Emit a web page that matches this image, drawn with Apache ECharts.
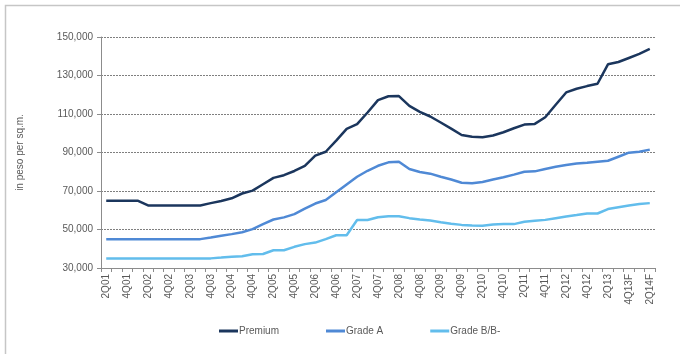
<!DOCTYPE html>
<html>
<head>
<meta charset="utf-8">
<script src="https://cdn.jsdelivr.net/npm/echarts@6/dist/echarts.min.js"></script>
<style>
  html, body { margin: 0; padding: 0; background: #ffffff; }
  #chart { width: 680px; height: 354px; }
</style>
</head>
<body>
<div id="chart"></div>
<script>
// Quarterly office rents, 2Q01 to 2Q14F (pesos per square metre)
const quarters = [
  '2Q01','3Q01','4Q01','1Q02','2Q02','3Q02','4Q02','1Q03','2Q03','3Q03','4Q03',
  '1Q04','2Q04','3Q04','4Q04','1Q05','2Q05','3Q05','4Q05','1Q06','2Q06','3Q06','4Q06',
  '1Q07','2Q07','3Q07','4Q07','1Q08','2Q08','3Q08','4Q08','1Q09','2Q09','3Q09','4Q09',
  '1Q10','2Q10','3Q10','4Q10','1Q11','2Q11','3Q11','4Q11','1Q12','2Q12','3Q12','4Q12',
  '1Q13','2Q13','3Q13','4Q13F','1Q14F','2Q14F'
];

const premium = [
  65000, 65000, 65000, 65000, 62500, 62500, 62500, 62500, 62500, 62500, 63700,
  64800, 66200, 68700, 70200, 73500, 76800, 78200, 80400, 83000, 88400, 90400, 96200,
  102300, 104700, 110800, 117200, 119200, 119300, 114200, 111100, 108700, 105600, 102400, 99100,
  98200, 97900, 98800, 100500, 102600, 104500, 104850, 108300, 114800, 121200, 123100, 124500,
  125700, 135800, 137000, 139100, 141200, 143800
];

const gradeA = [
  45000, 45000, 45000, 45000, 45000, 45000, 45000, 45000, 45000, 45000, 45800,
  46700, 47600, 48600, 50200, 52800, 55200, 56300, 58000, 60800, 63500, 65300, 69300,
  73400, 77400, 80500, 83100, 84900, 85200, 81400, 79900, 79000, 77400, 76000, 74300,
  74000, 74700, 76000, 77100, 78500, 80000, 80200, 81400, 82600, 83500, 84300, 84700,
  85200, 85700, 87800, 89900, 90400, 91500
];

const gradeB = [
  35000, 35000, 35000, 35000, 35000, 35000, 35000, 35000, 35000, 35000, 35000,
  35400, 35900, 36100, 37100, 37300, 39200, 39200, 41000, 42400, 43200, 45000, 47000,
  47000, 54900, 54900, 56400, 56900, 56900, 55900, 55200, 54700, 53800, 53000, 52400,
  52100, 51900, 52600, 52800, 52800, 54000, 54500, 55000, 55900, 56800, 57500, 58300,
  58300, 60600, 61600, 62500, 63200, 63700
];

const seriesNames = ['Premium', 'Grade A', 'Grade B/B-'];
const seriesColors = ['#1b365d', '#4f89d5', '#62bdec'];
const seriesData = [premium, gradeA, gradeB];

const textColor = '#595959';
const fontFamily = '"Liberation Sans", Arial, sans-serif';

const chart = echarts.init(document.getElementById('chart'), null, { renderer: 'canvas' });

chart.setOption({
  animation: false,
  backgroundColor: '#ffffff',
  textStyle: { fontFamily: fontFamily },
  graphic: [
    {
      type: 'polyline',
      silent: true,
      shape: { points: [[5.5, 354], [5.5, 5.5], [680, 5.5]] },
      style: { stroke: '#c6c6c6', lineWidth: 1.5, fill: null }
    }
  ],
  grid: { left: 101, right: 25, top: 37, bottom: 86, containLabel: false },
  legend: {
    data: seriesNames,
    left: 214,
    top: 321,
    itemWidth: 19,
    itemHeight: 3,
    itemGap: 47,
    icon: 'rect',
    textStyle: { color: textColor, fontSize: 10, fontFamily: fontFamily, padding: [0, 0, 0, -4] }
  },
  xAxis: {
    type: 'category',
    data: quarters,
    boundaryGap: true,
    axisLine: { lineStyle: { color: '#8c8c8c', width: 1 } },
    axisTick: { show: true, interval: 0, length: 4, lineStyle: { color: '#8c8c8c' } },
    axisLabel: {
      interval: 1,
      rotate: 90,
      margin: 6,
      color: textColor,
      fontSize: 10,
      fontFamily: fontFamily
    },
    splitLine: { show: false }
  },
  yAxis: {
    type: 'value',
    min: 30000,
    max: 150000,
    interval: 20000,
    name: 'in peso per sq.m.',
    nameLocation: 'middle',
    nameGap: 76,
    nameRotate: 90,
    nameTextStyle: { color: textColor, fontSize: 10, fontFamily: fontFamily },
    axisLine: { show: true, lineStyle: { color: '#8c8c8c', width: 1 } },
    axisTick: { show: true, length: 4, lineStyle: { color: '#8c8c8c' } },
    axisLabel: {
      color: textColor,
      fontSize: 10,
      margin: 8,
      fontFamily: fontFamily,
      formatter: v => v.toLocaleString('en-US')
    },
    splitLine: { show: true, lineStyle: { color: '#7f7f7f', type: [2, 1], width: 1 } }
  },
  series: seriesNames.map((name, k) => ({
    name: name,
    type: 'line',
    data: seriesData[k],
    symbol: 'none',
    smooth: false,
    lineStyle: { color: seriesColors[k], width: 2.5 },
    itemStyle: { color: seriesColors[k] },
    z: 3 - k
  }))
});
</script>
</body>
</html>
